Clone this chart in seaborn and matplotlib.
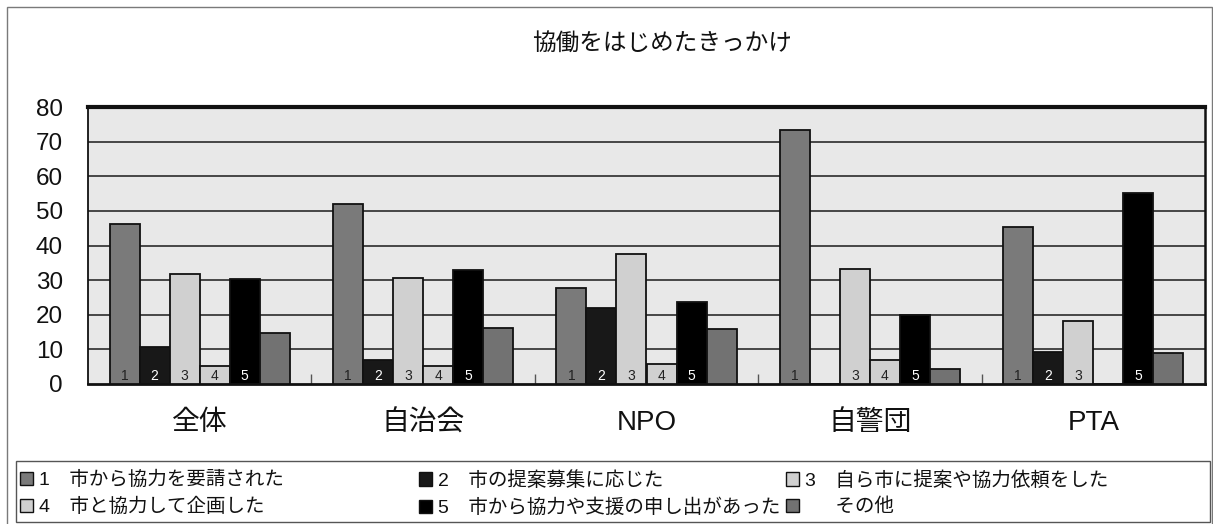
import matplotlib
matplotlib.use("Agg")
import matplotlib.pyplot as plt
from matplotlib.patches import Patch, Rectangle
import numpy as np
import pandas as pd
import seaborn as sns

# --- data -------------------------------------------------------------
categories = ["全体", "自治会", "NPO", "自警団", "PTA"]
series_labels = [
    "1\u3000市から協力を要請された",
    "2\u3000市の提案募集に応じた",
    "3\u3000自ら市に提案や協力依頼をした",
    "4\u3000市と協力して企画した",
    "5\u3000市から協力や支援の申し出があった",
    "\u2007\u3000その他",
]
bar_tags = ["1", "2", "3", "4", "5", ""]
requested = [46.2, 52.0, 27.6, 73.4, 45.3]
proposal = [10.7, 6.9, 22.0, 0.0, 9.1]
own_initiative = [31.8, 30.7, 37.5, 33.3, 18.3]
joint_planning = [5.3, 5.3, 5.8, 6.9, 0.0]
city_offer = [30.3, 32.9, 23.6, 19.9, 55.3]
other = [14.7, 16.3, 15.8, 4.4, 9.0]
y_ticks = [0, 10, 20, 30, 40, 50, 60, 70, 80]
title = "協働をはじめたきっかけ"

series_values = [requested, proposal, own_initiative, joint_planning, city_offer, other]
colors = ["#7a7a7a", "#181818", "#d0d0d0", "#d0d0d0", "#000000", "#727272"]
tag_colors = ["#222222", "white", "#222222", "#222222", "white", "white"]

df = pd.DataFrame(
    [(c, s, v) for s, vals in zip(series_labels, series_values)
     for c, v in zip(categories, vals)],
    columns=["category", "series", "value"],
)

# --- figure -----------------------------------------------------------
sns.set_theme(style="white")
plt.rcParams["font.family"] = ["Liberation Sans", "Noto Sans CJK JP"]

W, H = 1213, 524
fig = plt.figure(figsize=(W / 100, H / 100), dpi=100)
ax = fig.add_axes([88 / W, 1 - 384 / H, (1205 - 88) / W, (384 - 107) / H])
ax.set_facecolor("#e8e8e8")

sns.barplot(
    data=df, x="category", y="value", hue="series",
    order=categories, hue_order=series_labels,
    palette=colors, width=0.806, edgecolor="#111111", linewidth=1.3,
    saturation=1, legend=False, ax=ax, zorder=3,
)

# digits at the foot of each numbered bar
for cont, tag, tc in zip(ax.containers, bar_tags, tag_colors):
    if not tag:
        continue
    for rect in cont:
        if rect.get_height() <= 0:
            continue
        ax.text(rect.get_x() + rect.get_width() / 2, 2.4, tag,
                ha="center", va="center", fontsize=10, color=tc, zorder=5)

ax.set_xlim(-0.5, len(categories) - 0.5)
ax.set_ylim(0, 80)
ax.set_yticks(y_ticks)
ax.set_yticklabels([str(t) for t in y_ticks], fontsize=17.5)
ax.set_xticks(range(len(categories)))
ax.set_xticklabels(categories, fontsize=20)
ax.set_xticks(np.arange(0.5, len(categories) - 1, 1.0), minor=True)
ax.tick_params(axis="x", which="major", length=0, pad=19, colors="#111111")
ax.tick_params(axis="x", which="minor", length=7, width=1, direction="in",
               color="#555555", bottom=True)
ax.tick_params(axis="y", length=0, pad=18, colors="#111111")
ax.set_xlabel("")
ax.set_ylabel("")

for y in y_ticks[1:-1]:
    ax.axhline(y, color="#1a1a1a", lw=1.1, zorder=1)

for side, lw in (("top", 3.0), ("right", 1.8), ("bottom", 2.0), ("left", 1.3)):
    ax.spines[side].set_visible(True)
    ax.spines[side].set_color("#111111")
    ax.spines[side].set_linewidth(lw)

fig.text(662 / W, 1 - 44 / H, title, ha="center", va="center", fontsize=17,
         color="#111111")

# legend: three two-row columns inside one frame, read row by row
handles = [Patch(facecolor=c, edgecolor="#111111", linewidth=1.0) for c in colors]
col_x = [20, 419, 786]
for k, x0 in enumerate(col_x):
    idx = [k, k + 3]
    lg = fig.legend(
        [handles[i] for i in idx], [series_labels[i] for i in idx],
        loc="upper left", bbox_to_anchor=(x0 / W, 1 - 471 / H),
        fontsize=14, frameon=False, handlelength=0.68, handleheight=0.68,
        handletextpad=0.3, borderpad=0.0, labelspacing=0.45, borderaxespad=0,
    )
    for t in lg.get_texts():
        t.set_color("#111111")

fig.patches.append(Rectangle((16 / W, 1 - 522 / H), (1210 - 16) / W, 61 / H,
                             transform=fig.transFigure, fill=False,
                             edgecolor="#555555", linewidth=1.0))

# outer chart frame
fig.patches.append(Rectangle((7 / W, -0.05), (1212 - 7) / W, 1.05 - 7 / H,
                             transform=fig.transFigure, fill=False,
                             edgecolor="#7a7a7a", linewidth=1.0))

fig.savefig("out.png", dpi=100)
